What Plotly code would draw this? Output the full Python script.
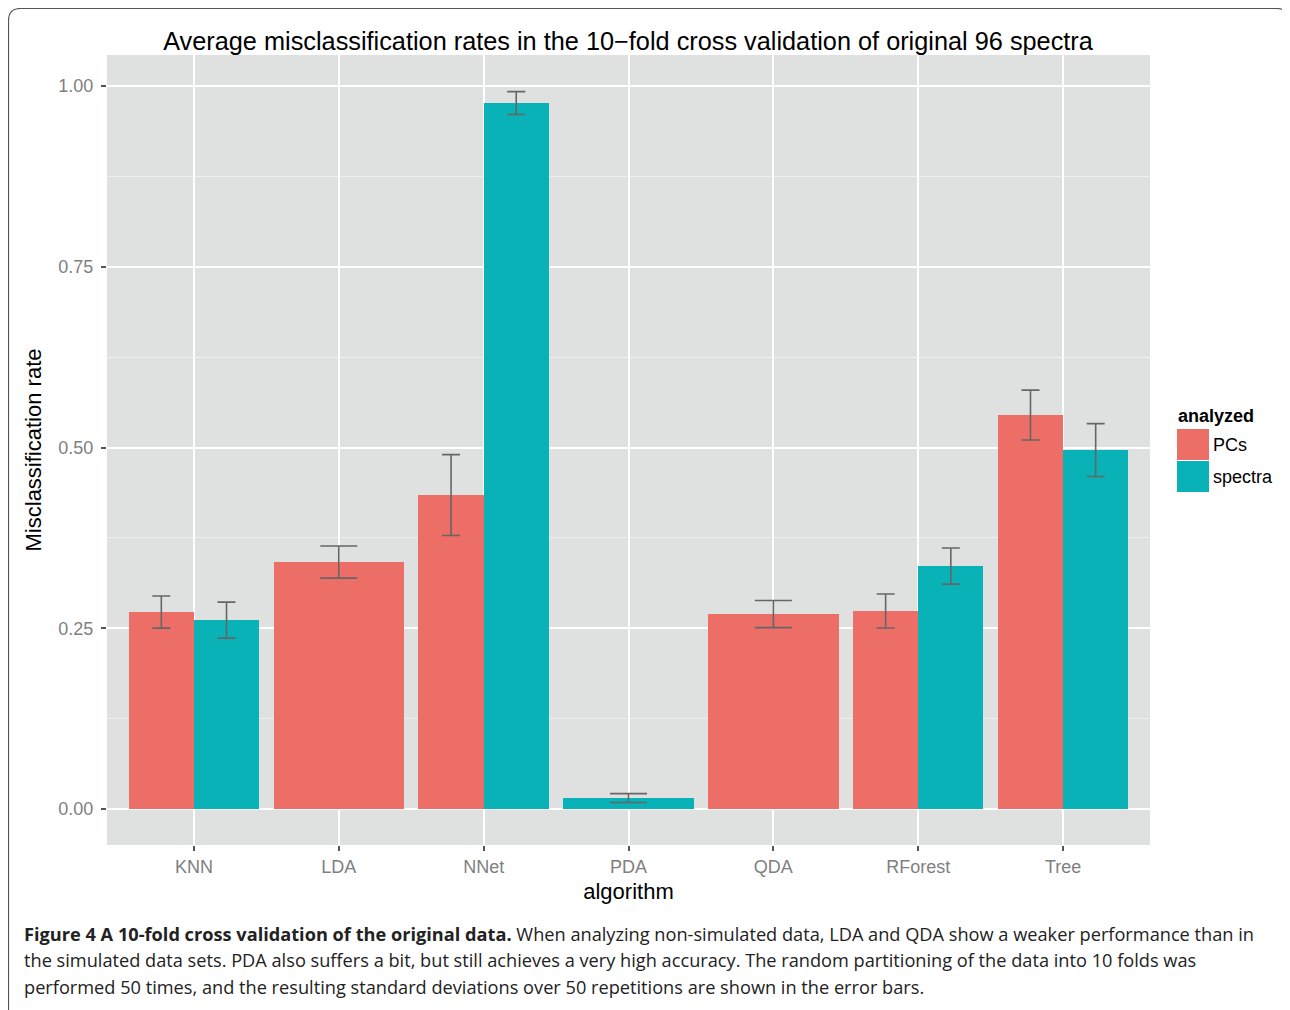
import plotly.graph_objects as go

# ---- data ----
algorithms = ["KNN", "LDA", "NNet", "PDA", "QDA", "RForest", "Tree"]
pcs_mean = [0.2725, 0.3416, 0.4343, None, 0.2697, 0.2739, 0.5450]
pcs_sd = [0.0222, 0.0222, 0.0560, None, 0.0187, 0.0235, 0.0345]
spectra_mean = [0.2614, None, 0.9765, 0.0152, None, 0.3361, 0.4965]
spectra_sd = [0.0249, None, 0.0159, 0.0062, None, 0.0249, 0.0366]
y_ticks = [0.0, 0.25, 0.5, 0.75, 1.0]
y_tick_labels = ["0.00", "0.25", "0.50", "0.75", "1.00"]

COL_PCS = "#ED6E67"
COL_SPEC = "#08B2B7"
BG = "#DFE0E0"
ERR = "#666666"

OFF = 8  # page body margin
W, H = 1290 - OFF, 1010 - OFF
# plot-area pixel bounds in the screenshot
PX_L, PX_R, PX_T, PX_B = 107, 1150, 55, 845
L, T = PX_L - OFF, PX_T - OFF
R, B = W - (PX_R - OFF), H - (PX_B - OFF)
PW, PH = PX_R - PX_L, PX_B - PX_T


def px_x(p):
    return (p - PX_L) / PW


def px_y(p):
    return (PX_B - p) / PH


# dodge positions (ggplot style: 0.9 total width, split if both groups present)
def layout_series(mean_a, mean_b, side):
    xs, ws, ys = [], [], []
    for i, (a, b) in enumerate(zip(mean_a, mean_b)):
        if a is None:
            continue
        if b is None:
            xs.append(i); ws.append(0.9)
        else:
            xs.append(i - 0.225 if side == 0 else i + 0.225); ws.append(0.45)
        ys.append(a)
    return xs, ws, ys


fig = go.Figure()

for name, mean, other, sd, col, side in [
    ("PCs", pcs_mean, spectra_mean, pcs_sd, COL_PCS, 0),
    ("spectra", spectra_mean, pcs_mean, spectra_sd, COL_SPEC, 1),
]:
    xs, ws, ys = layout_series(mean, other, side)
    fig.add_trace(go.Bar(x=xs, y=ys, width=ws, marker=dict(color=col, line=dict(width=0)),
                         name=name, showlegend=False))
    sds = [s for m, s in zip(mean, sd) if m is not None]
    for wsel, capw in [(0.45, 9), (0.9, 18.5)]:
        ex = [x for x, w in zip(xs, ws) if w == wsel]
        ey = [y for y, w in zip(ys, ws) if w == wsel]
        es = [s for s, w in zip(sds, ws) if w == wsel]
        if not ex:
            continue
        fig.add_trace(go.Scatter(x=ex, y=ey, mode="markers", marker=dict(size=0.1, opacity=0),
                                 error_y=dict(type="data", array=es, color=ERR, thickness=1.6, width=capw),
                                 showlegend=False, hoverinfo="skip"))

fig.update_layout(
    width=W, height=H,
    margin=dict(l=L, r=R, t=T, b=B),
    paper_bgcolor="white",
    plot_bgcolor=BG,
    font=dict(family="Liberation Sans, Arial, sans-serif"),
    title=dict(text="Average misclassification rates in the 10\u2212fold cross validation of original 96 spectra",
               x=px_x(628), xref="paper", xanchor="center", y=1 - (41 - OFF) / H, yanchor="middle",
               font=dict(size=25.3, color="black")),
    bargap=0, barmode="overlay",
    showlegend=False,
)

fig.update_xaxes(
    range=[-0.6, 6.6], tickvals=list(range(len(algorithms))), ticktext=algorithms,
    showgrid=True, gridcolor="white", gridwidth=2, zeroline=False,
    ticks="outside", ticklen=5, tickcolor="#555555", tickwidth=1.5,
    tickfont=dict(size=18, color="#7F7F7F"),
    title=dict(text="algorithm", font=dict(size=22, color="black"), standoff=8),
)
fig.update_yaxes(
    range=[-0.0497, 1.043], tickvals=y_ticks, ticktext=y_tick_labels,
    showgrid=True, gridcolor="white", gridwidth=2, zeroline=False,
    ticks="outside", ticklen=5, tickcolor="#555555", tickwidth=1.5,
    ticklabelstandoff=4,
    tickfont=dict(size=18, color="#7F7F7F"),
    minor=dict(tickvals=[0.125, 0.375, 0.625, 0.875], showgrid=True, gridcolor="#EEEFEF", gridwidth=1),
    title=dict(text="Misclassification rate", font=dict(size=22, color="black"), standoff=10),
)

shapes = []
annotations = []

# legend (manual, ggplot style)
annotations.append(dict(text="<b>analyzed</b>", x=px_x(1176), y=px_y(416), xref="paper", yref="paper",
                        xanchor="left", yanchor="middle", showarrow=False,
                        font=dict(size=18, color="black")))
for i, (lab, col) in enumerate([("PCs", COL_PCS), ("spectra", COL_SPEC)]):
    y0 = 429 + i * 32
    shapes.append(dict(type="rect", xref="paper", yref="paper",
                       x0=px_x(1177), x1=px_x(1209), y0=px_y(y0), y1=px_y(y0 + 31),
                       fillcolor=col, line=dict(width=0)))
    annotations.append(dict(text=lab, x=px_x(1211), y=px_y(y0 + 16), xref="paper", yref="paper",
                            xanchor="left", yanchor="middle", showarrow=False,
                            font=dict(size=18, color="black")))

# outer rounded frame
x0, x1, y0, y1 = px_x(8.5), px_x(1288.5), px_y(8.5), px_y(1030)
rx, ry = 12 / PW, 12 / PH
path = (f"M {x0+rx},{y0} L {x1-rx},{y0} Q {x1},{y0} {x1},{y0-ry} L {x1},{y1} "
        f"M {x0},{y1} L {x0},{y0-ry} Q {x0},{y0} {x0+rx},{y0}")
shapes.append(dict(type="path", xref="paper", yref="paper", path=path,
                   line=dict(color="#555555", width=1.2)))

# caption
cap_font = "Open Sans, sans-serif"
lines = [
    "<b>Figure 4 A 10-fold cross validation of the original data.</b> When analyzing non-simulated data, LDA and QDA show a weaker performance than in",
    "the simulated data sets. PDA also suffers a bit, but still achieves a very high accuracy. The random partitioning of the data into 10 folds was",
    "performed 50 times, and the resulting standard deviations over 50 repetitions are shown in the error bars.",
]
for i, t in enumerate(lines):
    annotations.append(dict(text=t, x=px_x(22), y=px_y(934 + i * 26.5), xref="paper", yref="paper",
                            xanchor="left", yanchor="middle", showarrow=False, align="left",
                            font=dict(size=18.2, color="#222222", family=cap_font)))

fig.update_layout(shapes=shapes, annotations=annotations)
fig.write_html("out.html")
